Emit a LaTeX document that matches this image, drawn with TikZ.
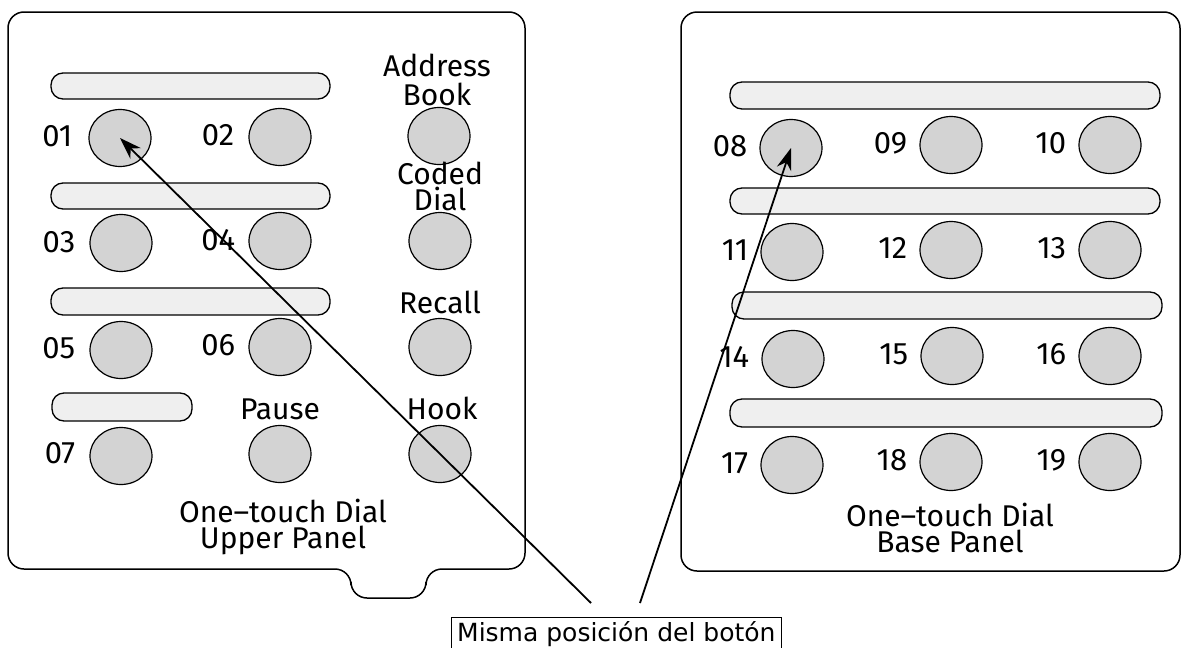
\documentclass[tikz,border=0pt]{standalone}
\usepackage{fontspec}
\setmainfont{Fira Sans}
\newfontfamily\boxfont{DejaVu Sans}
\usetikzlibrary{arrows.meta,shapes.geometric}
\definecolor{barfill}{HTML}{EFEFEF}
\definecolor{btnfill}{HTML}{D3D3D3}
\tikzset{
  panel/.style={draw=black, line width=1.5pt, rounded corners=16pt},
  bar/.style={draw=black, line width=1.3pt, fill=barfill, rounded corners=12pt},
  btn/.style={draw=black, line width=1.2pt, fill=btnfill, ellipse, minimum width=62pt, minimum height=57pt, inner sep=0pt},
  num/.style={font=\fontsize{31}{31}\selectfont, inner sep=0pt, anchor=base east},
  capt/.style={font=\fontsize{30}{30}\selectfont, inner sep=0pt, anchor=base},
  tagbox/.style={draw=black, line width=1pt, font=\boxfont\fontsize{25}{25}\selectfont, inner xsep=6pt, inner ysep=4pt, anchor=north east},
  pointer/.style={draw=black, line width=1.8pt, -{Stealth[length=22pt,width=15pt]}}
}
\begin{document}
\begin{tikzpicture}[x=1pt,y=-1pt]
\useasboundingbox (0,0) rectangle (1184,648);
% left panel
\draw[panel] (8,569) -- (8,12) -- (525,12) -- (525,569) -- (426,569) -- (426,598) -- (351,598) -- (351,569) -- cycle;
% right panel
\draw[panel] (681,571) rectangle (1180,12);
% left bars
\draw[bar] (51,73) rectangle (330,99);
\draw[bar] (51,183) rectangle (330,209);
\draw[bar] (51,288) rectangle (330,315);
\draw[bar] (52,393) rectangle (192,421);
% right bars
\draw[bar] (730,82) rectangle (1160,109);
\draw[bar] (730,188) rectangle (1160,214);
\draw[bar] (732,292) rectangle (1162,319);
\draw[bar] (730,399) rectangle (1162,427);
% left buttons
\node[btn] (b01) at (120,138) {};
\node[btn] (b02) at (280,137) {};
\node[btn] (bab) at (439,136) {};
\node[btn] (b03) at (121,243) {};
\node[btn] (b04) at (280,241) {};
\node[btn] (bcd) at (440,241) {};
\node[btn] (b05) at (121,350) {};
\node[btn] (b06) at (280,347) {};
\node[btn] (brc) at (440,347) {};
\node[btn] (b07) at (121,456) {};
\node[btn] (bps) at (280,454) {};
\node[btn] (bhk) at (440,454) {};
% left labels
\node[num] (l01) at ([xshift=-16pt,yshift=-8pt]b01.west) {01};
\node[num] (l02) at ([xshift=-14pt,yshift=-8pt]b02.west) {02};
\node[num] (l03) at ([xshift=-14pt,yshift=-9pt]b03.west) {03};
\node[num] (l04) at ([xshift=-13pt,yshift=-9pt]b04.west) {04};
\node[num] (l05) at ([xshift=-14pt,yshift=-8pt]b05.west) {05};
\node[num] (l06) at ([xshift=-13pt,yshift=-8pt]b06.west) {06};
\node[num] (l07) at ([xshift=-14pt,yshift=-7pt]b07.west) {07};
\node[capt] (tad) at (437,76) {Address};
\node[capt] (tbk) at (437,105) {Book};
\node[capt] (tco) at (440,184) {Coded};
\node[capt] (tdi) at (440,210) {Dial};
\node[capt] (trc) at (440,313) {Recall};
\node[capt] (tps) at (280,419) {Pause};
\node[capt] (thk) at (442,419) {Hook};
\node[capt] (tup1) at (283,522) {One–touch Dial};
\node[capt] (tup2) at (283,548) {Upper Panel};
% right buttons
\node[btn] (b08) at (791,148) {};
\node[btn] (b09) at (951,145) {};
\node[btn] (b10) at (1110,145) {};
\node[btn] (b11) at (792,252) {};
\node[btn] (b12) at (951,250) {};
\node[btn] (b13) at (1110,250) {};
\node[btn] (b14) at (793,359) {};
\node[btn] (b15) at (952,356) {};
\node[btn] (b16) at (1110,356) {};
\node[btn] (b17) at (792,465) {};
\node[btn] (b18) at (951,462) {};
\node[btn] (b19) at (1110,462) {};
\node[num] (l08) at ([xshift=-12pt,yshift=-8pt]b08.west) {08};
\node[num] (l09) at ([xshift=-12pt,yshift=-8pt]b09.west) {09};
\node[num] (l10) at ([xshift=-12pt,yshift=-8pt]b10.west) {10};
\node[num] (l11) at ([xshift=-12pt,yshift=-8pt]b11.west) {11};
\node[num] (l12) at ([xshift=-12pt,yshift=-8pt]b12.west) {12};
\node[num] (l13) at ([xshift=-12pt,yshift=-8pt]b13.west) {13};
\node[num] (l14) at ([xshift=-12pt,yshift=-8pt]b14.west) {14};
\node[num] (l15) at ([xshift=-12pt,yshift=-8pt]b15.west) {15};
\node[num] (l16) at ([xshift=-12pt,yshift=-8pt]b16.west) {16};
\node[num] (l17) at ([xshift=-12pt,yshift=-8pt]b17.west) {17};
\node[num] (l18) at ([xshift=-12pt,yshift=-8pt]b18.west) {18};
\node[num] (l19) at ([xshift=-12pt,yshift=-8pt]b19.west) {19};
\node[capt] (tbp1) at (950,526) {One–touch Dial};
\node[capt] (tbp2) at (950,552) {Base Panel};
% tag and pointers
\node[tagbox] (note) at (782,617) {Misma posición del botón};
\coordinate (p1) at (591,603);
\coordinate (p2) at (640,603);
\draw[pointer] (p1) -- (b01.center);
\draw[pointer] (p2) -- (b08.center);
\end{tikzpicture}
\end{document}
